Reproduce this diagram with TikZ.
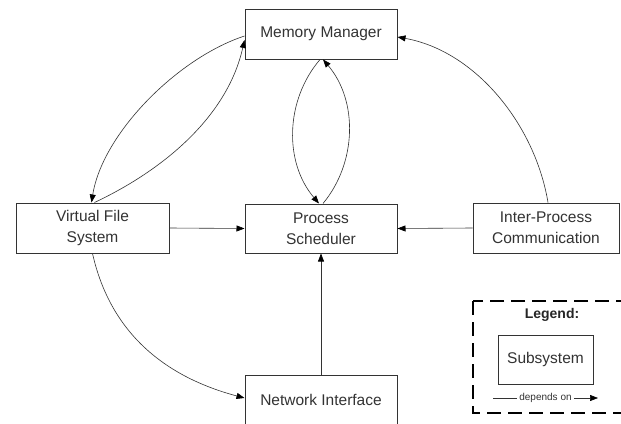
\documentclass[tikz,border=0pt]{standalone}
\usepackage{fontspec}
\setmainfont{Liberation Sans}
\usetikzlibrary{arrows.meta,calc}
\begin{document}
\begin{tikzpicture}[x=1pt,y=-1pt,
  subsys/.style={draw=black!80, line width=1pt, fill=white,
    minimum width=152pt, minimum height=50pt, inner sep=0pt, align=center,
    font=\fontsize{15.5}{21}\selectfont, text=black!80},
  dep/.style={draw=black!80, line width=0.6pt,
    -{Triangle[length=8pt,width=6pt,color=black]}},
  legendframe/.style={draw=black, line width=2.2pt, dash pattern=on 14pt off 7pt},
  legendtitle/.style={font=\bfseries\fontsize{14}{16}\selectfont, text=black!85},
  deplabel/.style={fill=white, font=\fontsize{10}{12}\selectfont, text=black!80,
    inner xsep=2pt, inner ysep=1pt},
]
\clip (0,0) rectangle (621,423);
\fill[white] (0,0) rectangle (621,423);

% subsystems
\node[subsys] (mm)  at (321,34)    {Memory Manager};
\node[subsys, minimum width=153pt] (vfs) at (92.5,228) {Virtual File\\System};
\node[subsys, minimum height=49pt] (ps)  at (321,228.5) {Process\\Scheduler};
\node[subsys, minimum width=146pt] (ipc) at (546,228)  {Inter-Process\\Communication};
\node[subsys] (ni)  at (321,400)   {Network Interface};

% straight dependencies
\draw[dep] (vfs.east) -- (ps.west);
\draw[dep] (ipc.west) -- (ps.east);
\draw[dep] (ni.north) -- (ps.south);

% memory manager <-> virtual file system
\draw[dep] ($(mm.west)+(0,2)$)
  .. controls ($(mm.west)+(-67,24)$) and ($(vfs.north)+(10,-69)$) .. ($(vfs.north)+(-1,0)$);
\draw[dep] ($(vfs.north)+(2,0)$)
  .. controls ($(vfs.north)+(72,-33)$) and ($(mm.west)+(-17,82)$) .. ($(mm.west)+(0,6)$);

% memory manager <-> process scheduler
\draw[dep] ($(mm.south)+(-1,0)$)
  .. controls ($(mm.south)+(-36,41)$) and ($(ps.north)+(-37,-41)$) .. ($(ps.north)+(-2,0)$);
\draw[dep] ($(ps.north)+(2,0)$)
  .. controls ($(ps.north)+(36,-41)$) and ($(mm.south)+(37,41)$) .. ($(mm.south)+(2,0)$);

% inter-process communication -> memory manager
\draw[dep] ($(ipc.north)+(2,0)$)
  .. controls ($(ipc.north)+(-11,-78)$) and ($(mm.east)+(78,17)$) .. ($(mm.east)+(0,3)$);

% virtual file system -> network interface
\draw[dep] (vfs.south)
  .. controls ($(vfs.south)+(18,80)$) and ($(ni.west)+(-79,-23)$) .. ($(ni.west)+(0,-2)$);

% legend
\draw[legendframe] (473,301) rectangle (660,413);
\node[legendtitle] (legtitle) at (552,315) {Legend:};
\node[subsys, minimum width=95pt, minimum height=49pt] (legsub) at (545.5,359.5) {Subsystem};
\coordinate (lega) at (493,398);
\coordinate (legb) at (598,398);
\draw[dep] (lega) -- node[deplabel] (legtext) {depends on} (legb);
\end{tikzpicture}
\end{document}
